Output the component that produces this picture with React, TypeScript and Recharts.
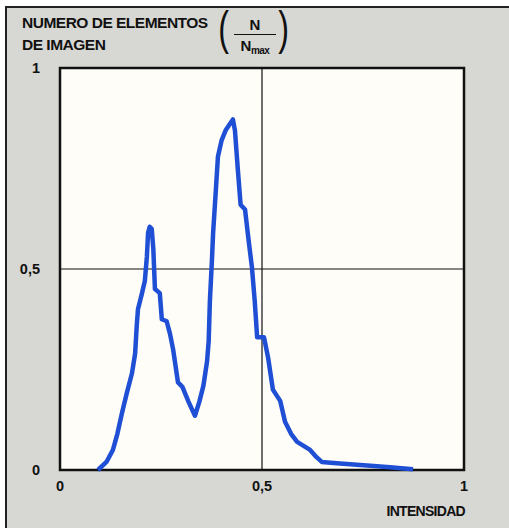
import React from 'react';
import { LineChart, Line, XAxis, YAxis, CartesianGrid, ReferenceLine, ReferenceArea } from 'recharts';

// intensity (0..1) and normalised pixel count N/Nmax
const intensity = [
  0.094, 0.115, 0.131, 0.142, 0.153, 0.165, 0.178, 0.186, 0.19, 0.193,
  0.203, 0.21, 0.215, 0.218, 0.222, 0.227, 0.231, 0.235, 0.247, 0.252,
  0.264, 0.272, 0.28, 0.292, 0.303, 0.318, 0.334, 0.345, 0.355, 0.364,
  0.368, 0.371, 0.376, 0.379, 0.386, 0.391, 0.4, 0.41, 0.42, 0.428,
  0.433, 0.44, 0.447, 0.458, 0.467, 0.475, 0.482, 0.488, 0.505, 0.515,
  0.527, 0.545, 0.557, 0.572, 0.587, 0.6, 0.619, 0.635, 0.648, 0.67,
  0.693, 0.76, 0.817, 0.874,
];
const counts = [
  0.0, 0.02, 0.05, 0.09, 0.14, 0.19, 0.24, 0.29, 0.36, 0.4,
  0.44, 0.47, 0.53, 0.59, 0.605, 0.6, 0.55, 0.45, 0.44, 0.375,
  0.37, 0.34, 0.3, 0.218, 0.207, 0.17, 0.135, 0.17, 0.21, 0.27,
  0.32, 0.42, 0.52, 0.59, 0.7, 0.78, 0.82, 0.845, 0.86, 0.872,
  0.845, 0.75, 0.66, 0.648, 0.57, 0.505, 0.42, 0.33, 0.33, 0.28,
  0.2, 0.172, 0.12, 0.09, 0.07, 0.062, 0.05, 0.032, 0.02, 0.018,
  0.016, 0.011, 0.007, 0.002,
];
const ticks = [0, 0.5, 1];

const data = intensity.map((x, i) => ({ x, n: counts[i] }));

const font = "'Liberation Sans', Arial, sans-serif";
const fmt = (v: number) => String(v).replace('.', ',');
const ink = '#111';

export default function App() {
  return (
    <div style={{ position: 'absolute', left: 0, top: 0, width: 509, height: 528, background: '#fff', overflow: 'hidden' }}>
      <div style={{ position: 'absolute', left: 5, top: 6, width: 510, height: 530, background: '#d7d7d3', borderLeft: '2px solid #222', borderTop: '2px solid #222' }} />
      <div style={{ position: 'absolute', left: 22, top: 12, fontFamily: font, fontWeight: 'bold', fontSize: 15.5, letterSpacing: -0.5, lineHeight: '22px', color: ink }}>
        NUMERO DE ELEMENTOS<br />DE IMAGEN
      </div>
      {/* N / Nmax in parentheses */}
      <div style={{ position: 'absolute', left: 216, top: 2, fontFamily: font, fontSize: 46, lineHeight: '52px', color: ink, transform: 'scaleX(0.7)' }}>(</div>
      <div style={{ position: 'absolute', left: 276, top: 2, fontFamily: font, fontSize: 46, lineHeight: '52px', color: ink, transform: 'scaleX(0.7)' }}>)</div>
      <div style={{ position: 'absolute', left: 234, top: 16, width: 42, textAlign: 'center', fontFamily: font, fontWeight: 'bold', fontSize: 15, lineHeight: '18px', color: ink }}>N</div>
      <div style={{ position: 'absolute', left: 234, top: 34, width: 42, borderTop: `1.5px solid ${ink}` }} />
      <div style={{ position: 'absolute', left: 234, top: 37, width: 42, textAlign: 'center', fontFamily: font, fontWeight: 'bold', fontSize: 15, lineHeight: '18px', letterSpacing: -0.5, color: ink }}>
        N<span style={{ fontSize: 10, position: 'relative', top: 3 }}>max</span>
      </div>
      <div style={{ position: 'absolute', left: 0, top: 0 }}>
        <LineChart width={509} height={528} data={data} margin={{ top: 68, right: 45, bottom: 28, left: 20 }}>
          <CartesianGrid fill="#fffdf7" horizontal={false} vertical={false} />
          <XAxis
            dataKey="x"
            type="number"
            domain={[0, 1]}
            ticks={ticks}
            tickFormatter={fmt}
            axisLine={false}
            tickLine={false}
            height={30}
            tickMargin={5}
            tick={{ fill: ink, fontFamily: font, fontWeight: 'bold', fontSize: 14.5 }}
          />
          <YAxis
            type="number"
            domain={[0, 1]}
            ticks={ticks}
            tickFormatter={fmt}
            axisLine={false}
            tickLine={false}
            width={40}
            tickMargin={14}
            tick={{ fill: ink, fontFamily: font, fontWeight: 'bold', fontSize: 14.5 }}
          />
          <ReferenceLine x={0.5} stroke={ink} strokeWidth={1.2} />
          <ReferenceLine y={0.5} stroke={ink} strokeWidth={1.2} />
          <Line
            type="linear"
            dataKey="n"
            stroke="#1f4fd4"
            strokeWidth={4.5}
            dot={false}
            strokeLinejoin="round"
            isAnimationActive={false}
          />
          <ReferenceArea x1={0} x2={1} y1={0} y2={1} fill="none" stroke={ink} strokeWidth={2.5} fillOpacity={0} />
        </LineChart>
      </div>
      <div style={{ position: 'absolute', right: 44, top: 503, fontFamily: font, fontWeight: 'bold', fontSize: 14, letterSpacing: -0.7, color: ink }}>
        INTENSIDAD
      </div>
    </div>
  );
}
